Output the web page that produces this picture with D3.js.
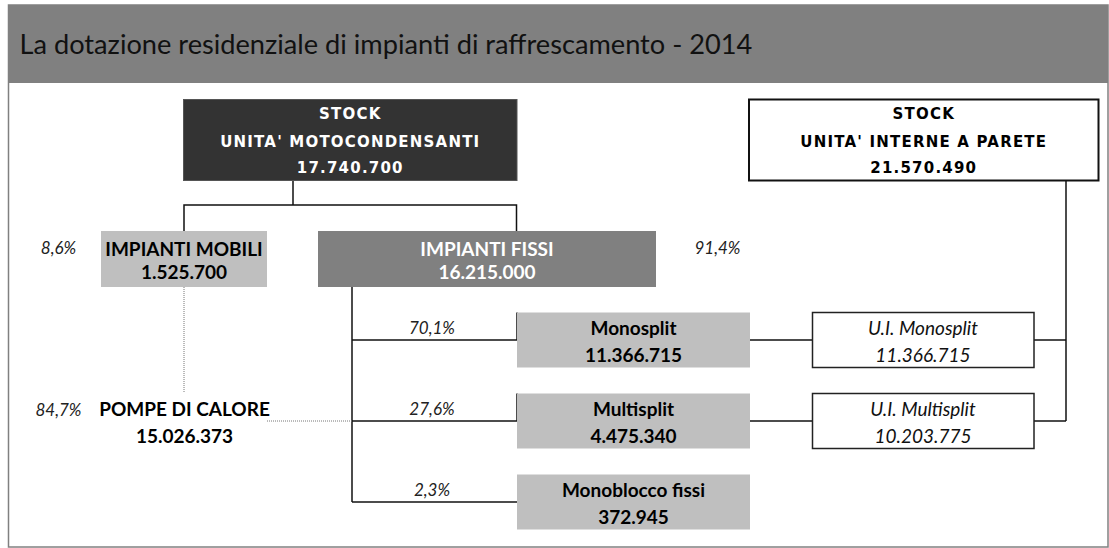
<!DOCTYPE html>
<html>
<head>
<meta charset="utf-8">
<script src="https://cdn.jsdelivr.net/npm/d3@7"></script>
<style>
  body { margin: 0; background: #fff; }
  svg { display: block; }
  .title { font-family: Lato, sans-serif; font-size: 26px; fill: #111; }
  .stock { font-family: "DejaVu Sans", sans-serif; font-weight: bold; font-size: 15px; letter-spacing: 1.2px; }
  .box-text { font-family: Lato, sans-serif; font-weight: bold; font-size: 19px; }
  .ui-text { font-family: Lato, sans-serif; font-style: italic; font-size: 19px; }
  .share { font-family: Lato, sans-serif; font-style: italic; font-size: 17px; fill: #222; }
  .link { stroke: #111; stroke-width: 1.5; fill: none; }
  .dotted { stroke: #777; stroke-width: 1; stroke-dasharray: 1 1; fill: none; }
</style>
</head>
<body>
<svg id="chart" width="1109" height="548"></svg>
<script>
var title = 'La dotazione residenziale di impianti di raffrescamento - 2014';

// stock boxes
var stockLabels = ["UNITA' MOTOCONDENSANTI", "UNITA' INTERNE A PARETE"];
var stockValues = [17740700, 21570490];

// mobile vs fixed
var level1Labels = ['IMPIANTI MOBILI', 'IMPIANTI FISSI'];
var level1Values = [1525700, 16215000];
var level1Shares = ['8,6%', '91,4%'];

// fixed systems by type
var fissiTypes = ['Monosplit', 'Multisplit', 'Monoblocco fissi'];
var fissiValues = [11366715, 4475340, 372945];
var fissiShares = ['70,1%', '27,6%', '2,3%'];

// indoor wall units
var uiLabels = ['U.I. Monosplit', 'U.I. Multisplit'];
var uiValues = [11366715, 10203775];

// heat pumps
var pompeLabel = 'POMPE DI CALORE';
var pompeValue = 15026373;
var pompeShare = '84,7%';

var it = d3.formatLocale({decimal: ',', thousands: '.', grouping: [3], currency: ['€', '']});
var fmt = it.format(',d');

var svg = d3.select('#chart');

// row positions
var rowY = d3.scalePoint().domain(fissiTypes).range([340, 502]);
var level1Y = 259, stockY = 140;
var boxH = 55;

// frame + title bar
svg.append('rect')
  .attr('x', 8.5).attr('y', 5).attr('width', 1099.5).attr('height', 542)
  .attr('fill', '#fff').attr('stroke', '#808080').attr('stroke-width', 1.5);
svg.append('rect')
  .attr('x', 8.5).attr('y', 5).attr('width', 1099.5).attr('height', 78)
  .attr('fill', '#808080');
var t = svg.append('text').attr('class', 'title')
  .attr('x', 19.5).attr('y', 54).text(title);
// stretch title to the reference width
var tw = t.node().getComputedTextLength();
t.style('font-size', (26 * 733 / tw) + 'px');

function twoLines(g, cx, cy, l1, l2, cls, color, d1, d2) {
  g.append('text').attr('class', cls).attr('x', cx).attr('y', cy + d1)
    .attr('text-anchor', 'middle').attr('fill', color).text(l1);
  g.append('text').attr('class', cls).attr('x', cx).attr('y', cy + d2)
    .attr('text-anchor', 'middle').attr('fill', color).text(l2);
}

function line(pts, cls) {
  svg.append('path').attr('class', cls || 'link').attr('d', d3.line()(pts));
}

// connectors first
line([[293, 180.5], [293, 205]]);
line([[184, 231], [184, 205], [516.5, 205], [516.5, 231]]);
line([[352, 287], [352, rowY('Monoblocco fissi')]]);
fissiTypes.forEach(function (d, i) {
  var y = rowY(d);
  line([[352, y], [517, y]]);
  if (i < 2) {
    line([[517, y - boxH / 2], [517, y]]);
    line([[750, y], [812.5, y]]);
    line([[1034, y], [1066, y]]);
  }
});
line([[1066, 180], [1066, rowY('Multisplit')]]);
line([[184, 287], [184, 393]], 'dotted');
line([[267, rowY('Multisplit')], [352, rowY('Multisplit')]], 'dotted');

// stock boxes
var stockX = [[183.5, 517], [749, 1098.5]];
var stockFill = ['#333333', '#ffffff'];
var stockInk = ['#ffffff', '#000000'];
stockLabels.forEach(function (d, i) {
  var g = svg.append('g');
  g.append('rect')
    .attr('x', stockX[i][0]).attr('y', 99.5)
    .attr('width', stockX[i][1] - stockX[i][0]).attr('height', 81)
    .attr('fill', stockFill[i])
    .attr('stroke', i ? '#111' : '#555').attr('stroke-width', i ? 2 : 1);
  var cx = (stockX[i][0] + stockX[i][1]) / 2;
  g.append('text').attr('class', 'stock').attr('x', cx).attr('y', stockY - 21)
    .attr('text-anchor', 'middle').attr('fill', stockInk[i]).text('STOCK');
  twoLines(g, cx, stockY, d, fmt(stockValues[i]), 'stock', stockInk[i], 6.5, 33);
});

// level 1
var level1X = [[101, 267], [318, 656]];
var level1Fill = ['#bfbfbf', '#808080'];
var level1Ink = ['#000', '#fff'];
var shareX = [58.5, 717.5];
level1Labels.forEach(function (d, i) {
  var g = svg.append('g');
  g.append('rect')
    .attr('x', level1X[i][0]).attr('y', level1Y - 28)
    .attr('width', level1X[i][1] - level1X[i][0]).attr('height', 56)
    .attr('fill', level1Fill[i]);
  twoLines(g, (level1X[i][0] + level1X[i][1]) / 2, level1Y, d, fmt(level1Values[i]),
    'box-text', level1Ink[i], -3.5, 19.5);
  svg.append('text').attr('class', 'share').attr('x', shareX[i]).attr('y', level1Y - 5)
    .attr('text-anchor', 'middle').text(level1Shares[i]);
});

// fixed types
fissiTypes.forEach(function (d, i) {
  var y = rowY(d);
  var g = svg.append('g');
  g.append('rect')
    .attr('x', 517).attr('y', y - boxH / 2).attr('width', 233).attr('height', boxH)
    .attr('fill', '#bfbfbf');
  twoLines(g, 633.5, y, d, fmt(fissiValues[i]), 'box-text', '#000', -5, 21.5);
  svg.append('text').attr('class', 'share').attr('x', 432).attr('y', y - 6)
    .attr('text-anchor', 'middle').text(fissiShares[i]);
});

// indoor units
uiLabels.forEach(function (d, i) {
  var y = rowY(fissiTypes[i]);
  var g = svg.append('g');
  g.append('rect')
    .attr('x', 812.5).attr('y', y - boxH / 2).attr('width', 221.5).attr('height', boxH)
    .attr('fill', '#fff').attr('stroke', '#222').attr('stroke-width', 1.5);
  twoLines(g, 923, y, d, fmt(uiValues[i]), 'ui-text', '#111', -5, 21.5);
});

// heat pumps (no box)
var py = rowY('Multisplit');
twoLines(svg.append('g'), 184.5, py, pompeLabel, fmt(pompeValue), 'box-text', '#000', -5, 21.5);
svg.append('text').attr('class', 'share').attr('x', 58.5).attr('y', py - 5)
  .attr('text-anchor', 'middle').text(pompeShare);
</script>
</body>
</html>
